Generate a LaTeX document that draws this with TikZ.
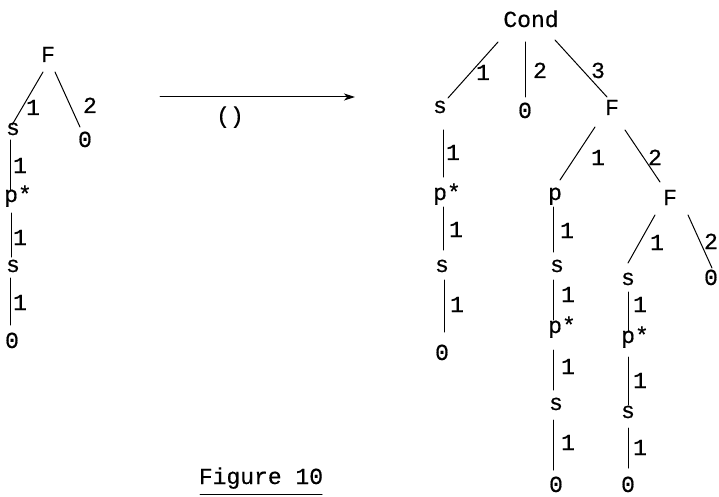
\documentclass[tikz,border=0pt]{standalone}
\usepackage{fontspec}
\newfontfamily\tw[FakeBold=0.5]{Liberation Mono}
\usetikzlibrary{arrows.meta}
\tikzset{
  txt/.style={anchor=base, inner sep=0pt, font=\tw\fontsize{23}{27}\selectfont},
  wire/.style={line width=1pt, line cap=round},
}
\begin{document}
\begin{tikzpicture}[x=1pt, y=-1pt]
\useasboundingbox (0,0) rectangle (719,497);
% ---------------- left tree ----------------
\node[txt] (aF)  at (48,62)  {F};
\node[txt] (as1) at (13,135) {s};
\node[txt] (a0)  at (85,147) {0};
\node[txt] (ap)  at (18,202) {p*};
\node[txt] (as2) at (13,272) {s};
\node[txt] (a00) at (12,348) {0};
\draw[wire] ([shift={(-5,10)}]aF.base) -- ([shift={(-1,-10)}]as1.base);
\draw[wire] ([shift={(7,10)}]aF.base) -- ([shift={(-5,-20)}]a0.base);
\draw[wire] ([shift={(-3,5)}]as1.base) -- ([shift={(-8,-12)}]ap.base);
\draw[wire] ([shift={(-7,11)}]ap.base) -- ([shift={(-2,-15)}]as2.base);
\draw[wire] ([shift={(-3,6)}]as2.base) -- ([shift={(-2,-23)}]a00.base);
\node[txt] (la1) at (33,115) {1};
\node[txt] (la2) at (90,113) {2};
\node[txt] (la3) at (20,173) {1};
\node[txt] (la4) at (20,245) {1};
\node[txt] (la5) at (20,310) {1};
% ---------------- arrow ----------------
\coordinate (arrS) at (160,97);
\coordinate (arrE) at (355,97);
\draw[wire, -{Stealth[length=11pt,width=7pt,inset=3pt]}] (arrS) -- (arrE);
\node[txt] (arrL) at (230,123) {()};
% ---------------- right tree ----------------
\node[txt] (bC)  at (531,27)  {Cond};
\node[txt] (bs)  at (440,113) {s};
\node[txt] (b0)  at (525,118) {0};
\node[txt] (bF)  at (612,115) {F};
\node[txt] (bp1) at (447,200) {p*};
\node[txt] (bp)  at (555,200) {p};
\node[txt] (bF2) at (670,205) {F};
\node[txt] (bs2) at (442,272) {s};
\node[txt] (b00) at (442,360) {0};
\node[txt] (cs)  at (557,272) {s};
\node[txt] (cp)  at (562,333) {p*};
\node[txt] (cs2) at (556,410) {s};
\node[txt] (c0)  at (556,492) {0};
\node[txt] (ds)  at (628,285) {s};
\node[txt] (d0r) at (711,285) {0};
\node[txt] (dp)  at (635,343) {p*};
\node[txt] (ds2) at (628,418) {s};
\node[txt] (d0)  at (628,492) {0};
\draw[wire] ([shift={(-33,15)}]bC.base) -- ([shift={(8,-15)}]bs.base);
\draw[wire] ([shift={(-6,15)}]bC.base) -- ([shift={(0,-21)}]b0.base);
\draw[wire] ([shift={(24,13)}]bC.base) -- ([shift={(-5,-18)}]bF.base);
\draw[wire] ([shift={(3,17)}]bs.base) -- ([shift={(-4,-23)}]bp1.base);
\draw[wire] ([shift={(-4,7)}]bp1.base) -- ([shift={(1,-22)}]bs2.base);
\draw[wire] ([shift={(2,8)}]bs2.base) -- ([shift={(2,-28)}]b00.base);
\draw[wire] ([shift={(-17,12)}]bF.base) -- ([shift={(5,-20)}]bp.base);
\draw[wire] ([shift={(13,15)}]bF.base) -- ([shift={(-10,-23)}]bF2.base);
\draw[wire] ([shift={(-2,7)}]bp.base) -- ([shift={(-4,-20)}]cs.base);
\draw[wire] ([shift={(-4,8)}]cs.base) -- ([shift={(-9,-13)}]cp.base);
\draw[wire] ([shift={(-9,17)}]cp.base) -- ([shift={(-3,-20)}]cs2.base);
\draw[wire] ([shift={(-3,10)}]cs2.base) -- ([shift={(-3,-22)}]c0.base);
\draw[wire] ([shift={(-15,10)}]bF2.base) -- ([shift={(0,-22)}]ds.base);
\draw[wire] ([shift={(18,10)}]bF2.base) -- ([shift={(1,-17)}]d0r.base);
\draw[wire] ([shift={(0,7)}]ds.base) -- ([shift={(-7,-11)}]dp.base);
\draw[wire] ([shift={(-7,14)}]dp.base) -- ([shift={(0,-13)}]ds2.base);
\draw[wire] ([shift={(0,10)}]ds2.base) -- ([shift={(0,-24)}]d0.base);
\node[txt] (lb1)  at (483,80)  {1};
\node[txt] (lb2)  at (540,78)  {2};
\node[txt] (lb3)  at (598,78)  {3};
\node[txt] (lb4)  at (453,160) {1};
\node[txt] (lb5)  at (598,165) {1};
\node[txt] (lb6)  at (655,165) {2};
\node[txt] (lb7)  at (456,237) {1};
\node[txt] (lb8)  at (457,312) {1};
\node[txt] (lb9)  at (567,238) {1};
\node[txt] (lb10) at (568,302) {1};
\node[txt] (lb11) at (568,374) {1};
\node[txt] (lb12) at (568,450) {1};
\node[txt] (lb13) at (657,250) {1};
\node[txt] (lb14) at (711,249) {2};
\node[txt] (lb15) at (640,312) {1};
\node[txt] (lb16) at (640,388) {1};
\node[txt] (lb17) at (640,455) {1};
% ---------------- caption ----------------
\node[txt] (cap) at (261,484) {Figure 10};
\draw[wire] ([shift={(-61,10)}]cap.base) -- ([shift={(61,10)}]cap.base);
\end{tikzpicture}
\end{document}
